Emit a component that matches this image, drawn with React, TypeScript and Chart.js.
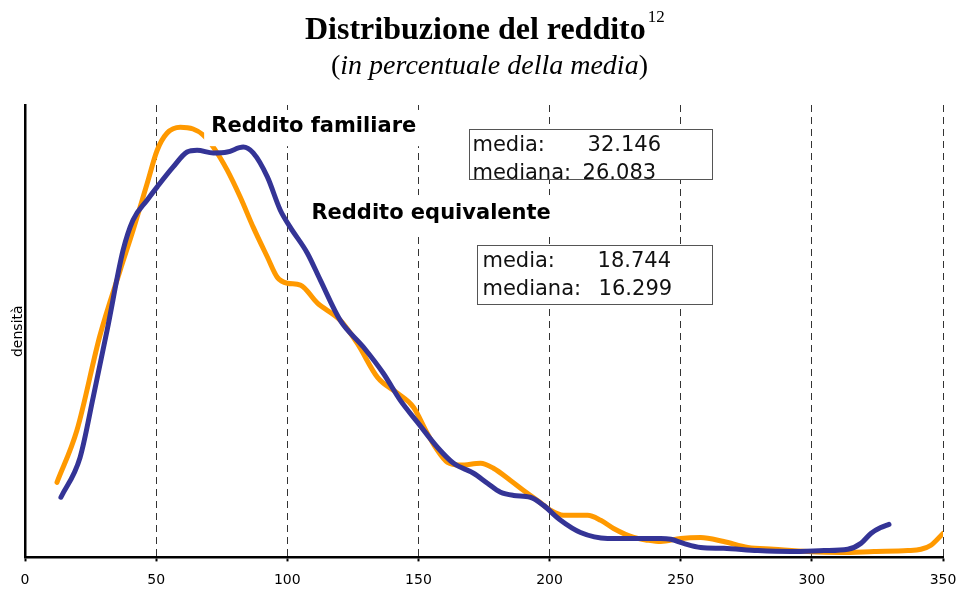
import React, { useEffect, useRef } from 'react';
import { Chart, registerables } from 'chart.js';

Chart.register(...registerables);

// ---- Data ----
const xTickValues = [0, 50, 100, 150, 200, 250, 300, 350];

const familiareX = [12.2, 19.8, 28.6, 36.3, 41.2, 46.6, 50.4, 54.2, 59.2, 64.1, 67.9, 71.8, 77.1, 82.1, 87.0, 92.4, 96.2, 100.0, 105.0, 111.5, 120.2, 126.7, 134.4, 142.0, 148.1, 153.4, 156.5, 161.1, 166.0, 173.7, 178.6, 185.1, 190.1, 195.4, 200.4, 205.3, 214.5, 219.5, 224.4, 232.1, 237.4, 242.4, 250.0, 257.6, 266.4, 275.6, 285.5, 298.5, 311.1, 323.7, 336.6, 341.6, 345.4, 350.0];
const familiareY = [16.6, 28.1, 49.1, 63.5, 72.3, 82.7, 90.0, 93.8, 95.1, 94.7, 93.4, 90.7, 85.6, 79.6, 73.0, 66.4, 61.9, 60.6, 60.2, 56.2, 52.4, 47.3, 39.8, 36.3, 33.2, 27.4, 24.3, 21.0, 20.4, 20.8, 19.7, 17.0, 14.8, 12.6, 10.4, 9.3, 9.3, 8.2, 6.4, 4.4, 3.8, 3.5, 4.2, 4.4, 3.5, 2.2, 1.8, 1.3, 1.1, 1.3, 1.5, 1.8, 2.7, 5.3];

const equivalenteX = [13.7, 21.0, 26.0, 31.3, 37.4, 41.2, 46.6, 50.4, 56.5, 61.8, 65.6, 71.8, 77.1, 83.2, 87.0, 92.4, 97.3, 101.1, 107.6, 112.6, 120.2, 129.0, 136.6, 143.1, 149.6, 157.3, 163.4, 171.0, 176.3, 181.3, 186.3, 192.7, 197.7, 204.2, 211.8, 222.1, 232.1, 242.4, 246.2, 251.1, 257.6, 266.4, 279.4, 292.0, 304.6, 313.7, 318.7, 322.5, 326.3, 329.4];
const equivalenteY = [13.3, 22.1, 35.4, 50.2, 67.9, 74.6, 79.0, 81.9, 86.3, 89.6, 90.0, 89.4, 89.6, 90.7, 89.4, 84.1, 76.8, 73.0, 67.3, 61.3, 52.4, 46.5, 40.7, 34.7, 29.9, 24.3, 20.8, 18.6, 16.4, 14.4, 13.7, 13.3, 11.5, 8.2, 5.5, 4.2, 4.2, 4.2, 4.0, 3.1, 2.2, 2.0, 1.5, 1.3, 1.5, 1.8, 3.1, 5.3, 6.6, 7.3];

const seriesNames = ['Reddito equivalente', 'Reddito familiare'];
const statLabels = ['media:', 'mediana:'];
const familiareStats = ['32.146', '26.083'];
const equivalenteStats = ['18.744', '16.299'];

const titleText = 'Distribuzione del reddito';
const titleNote = '12';
const subtitleText = 'in percentuale della media';
const yAxisTitle = 'densità';

const ORANGE = '#FF9900';
const BLUE = '#343496';
const SANS = '"DejaVu Sans", Verdana, sans-serif';
const SERIF = '"Liberation Serif", "Times New Roman", serif';

const toPoints = (xs: number[], ys: number[]) => xs.map((x, i) => ({ x, y: ys[i] }));

const annotationsPlugin = {
  id: 'annotations',
  afterDatasetDraw(chart: any, args: any) {
    // white background of the "Reddito familiare" label, drawn over the orange curve
    if (args.index !== 1) return;
    const xs = chart.scales.x;
    const ys = chart.scales.y;
    const ctx = chart.ctx;
    ctx.save();
    ctx.fillStyle = '#fff';
    const x1 = xs.getPixelForValue(68.3), x2 = xs.getPixelForValue(152.5);
    const y1 = ys.getPixelForValue(98.9), y2 = ys.getPixelForValue(90.9);
    ctx.fillRect(x1, y1, x2 - x1, y2 - y1);
    ctx.restore();
  },
  afterDatasetsDraw(chart: any) {
    const xs = chart.scales.x;
    const ys = chart.scales.y;
    const ctx = chart.ctx;
    const px = (v: number) => xs.getPixelForValue(v);
    const py = (v: number) => ys.getPixelForValue(v);
    ctx.save();
    // label backgrounds
    ctx.fillStyle = '#fff';
    ctx.fillRect(px(106.9), py(80.1), px(203.5) - px(106.9), py(71.9) - py(80.1));
    // series labels
    ctx.fillStyle = '#000';
    ctx.font = `bold 21px ${SANS}`;
    ctx.textBaseline = 'alphabetic';
    ctx.textAlign = 'left';
    ctx.fillText(seriesNames[1], px(71.0), py(94.0));
    ctx.fillText(seriesNames[0], px(109.2), py(74.8));

    const drawBox = (bx1: number, bx2: number, by1: number, by2: number, lx: number, vx: number[], lines: number[], vals: string[]) => {
      const X1 = Math.round(px(bx1)) + 0.5, X2 = Math.round(px(bx2)) + 0.5;
      const Y1 = Math.round(py(by1)) + 0.5, Y2 = Math.round(py(by2)) + 0.5;
      ctx.fillStyle = '#fff';
      ctx.fillRect(X1, Y1, X2 - X1, Y2 - Y1);
      ctx.fillStyle = '#111';
      ctx.font = `21px ${SANS}`;
      for (let i = 0; i < 2; i++) {
        ctx.fillText(statLabels[i], px(lx), py(lines[i]));
        ctx.fillText(vals[i], px(vx[i]), py(lines[i]));
      }
      ctx.strokeStyle = '#555';
      ctx.lineWidth = 1;
      ctx.strokeRect(X1, Y1, X2 - X1, Y2 - Y1);
    };
    drawBox(169.1, 261.8, 94.7, 83.6, 170.6, [214.5, 212.6], [89.8, 83.6], familiareStats);
    drawBox(172.5, 261.8, 69.0, 56.0, 174.4, [218.3, 218.7], [64.2, 58.0], equivalenteStats);
    ctx.restore();
  },
  afterDraw(chart: any) {
    const ctx = chart.ctx;
    ctx.save();
    ctx.fillStyle = '#000';
    ctx.textBaseline = 'alphabetic';
    ctx.textAlign = 'left';
    ctx.font = `bold 32px ${SERIF}`;
    const tx = 305;
    ctx.fillText(titleText, tx, 39);
    const tw = ctx.measureText(titleText).width;
    ctx.font = `17px ${SERIF}`;
    ctx.fillText(titleNote, tx + tw + 2, 22);
    // subtitle
    let sx = 331;
    ctx.font = `28px ${SERIF}`;
    ctx.fillText('(', sx, 74);
    sx += ctx.measureText('(').width;
    ctx.font = `italic 28px ${SERIF}`;
    ctx.fillText(subtitleText, sx, 74);
    sx += ctx.measureText(subtitleText).width;
    ctx.font = `28px ${SERIF}`;
    ctx.fillText(')', sx, 74);
    ctx.restore();
  },
};

export default function App() {
  const ref = useRef<HTMLCanvasElement | null>(null);

  useEffect(() => {
    if (!ref.current) return;
    const chart = new Chart(ref.current, {
      type: 'line',
      data: {
        datasets: [
          {
            label: seriesNames[0],
            data: toPoints(equivalenteX, equivalenteY),
            borderColor: BLUE,
            backgroundColor: BLUE,
            borderWidth: 5,
            pointRadius: 0,
            cubicInterpolationMode: 'monotone',
            borderCapStyle: 'round',
            borderJoinStyle: 'round',
          },
          {
            label: seriesNames[1],
            data: toPoints(familiareX, familiareY),
            borderColor: ORANGE,
            backgroundColor: ORANGE,
            borderWidth: 5,
            pointRadius: 0,
            cubicInterpolationMode: 'monotone',
            borderCapStyle: 'round',
            borderJoinStyle: 'round',
          },
        ],
      },
      options: {
        responsive: false,
        animation: false,
        events: [],
        layout: { padding: { top: 105, right: 16, bottom: 11, left: 0 } },
        plugins: {
          legend: { display: false },
          tooltip: { enabled: false },
          title: { display: false },
        },
        scales: {
          x: {
            type: 'linear',
            min: 0,
            max: 350,
            afterBuildTicks: (scale: any) => {
              scale.ticks = xTickValues.map((v) => ({ value: v }));
            },
            ticks: {
              color: '#000',
              padding: 2,
              maxRotation: 0,
              font: { family: SANS, size: 14, lineHeight: 2.4 },
            },
            grid: {
              display: true,
              color: '#333',
              lineWidth: 1,
              drawTicks: true,
              tickLength: 4,
              tickWidth: 2,
              tickColor: '#000',
              tickBorderDash: [0, 0],
            },
            border: { display: true, color: '#000', width: 2.5, dash: [7, 5] },
          },
          y: {
            min: 0,
            max: 100,
            ticks: { display: false },
            grid: { display: false, drawTicks: false },
            border: { display: true, color: '#000', width: 2.5 },
            title: {
              display: true,
              text: yAxisTitle,
              color: '#000',
              font: { family: SANS, size: 14, lineHeight: 1 },
              padding: { top: 11, bottom: 0 },
            },
          },
        },
      },
      plugins: [annotationsPlugin],
    } as any);
    return () => chart.destroy();
  }, []);

  return (
    <div style={{ position: 'fixed', left: 0, top: 0, width: 959, height: 590, overflow: 'hidden', background: '#fff' }}>
      <canvas ref={ref} width={959} height={610} style={{ display: 'block' }} />
    </div>
  );
}
